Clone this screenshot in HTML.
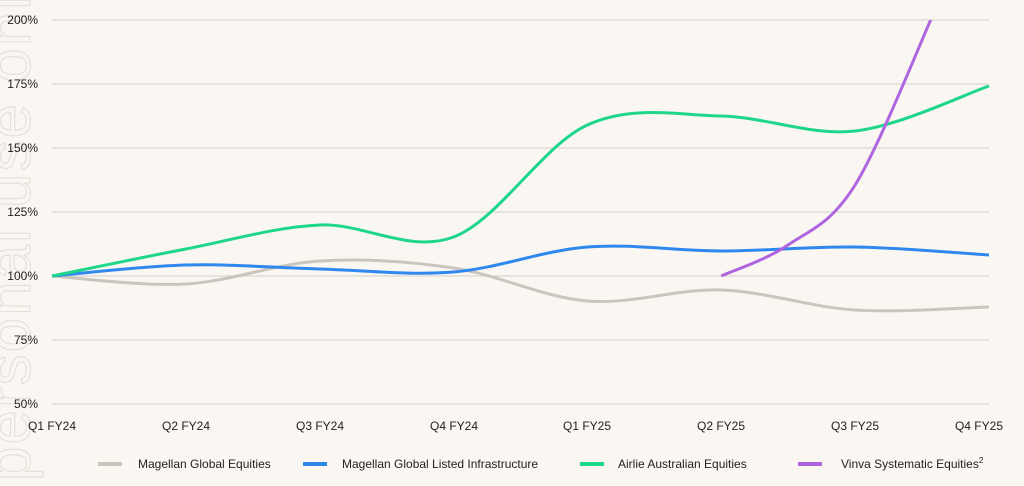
<!DOCTYPE html>
<html><head><meta charset="utf-8"><style>
html,body{margin:0;padding:0;background:#faf7f3;}
body{width:1024px;height:481px;overflow:hidden;font-family:"Liberation Sans",sans-serif;}
</style></head><body>
<svg id="s" width="1024" height="481" xmlns="http://www.w3.org/2000/svg" style="font-family:'Liberation Sans',sans-serif">
<text transform="translate(30,481) rotate(-90)" font-size="62" fill="none" stroke="#e4e0da" stroke-width="1.2" letter-spacing="2">personal use only</text>
<g stroke="#d9d6d2" stroke-width="1.3">
<line x1="52" x2="989" y1="20" y2="20"/><line x1="52" x2="989" y1="84" y2="84"/>
<line x1="52" x2="989" y1="148" y2="148"/><line x1="52" x2="989" y1="212" y2="212"/>
<line x1="52" x2="989" y1="276" y2="276"/><line x1="52" x2="989" y1="340" y2="340"/>
<line x1="52" x2="989" y1="404" y2="404"/></g>
<g font-size="12" fill="#222" text-anchor="end">
<text x="38" y="24">200%</text><text x="38" y="88">175%</text><text x="38" y="152">150%</text>
<text x="38" y="216">125%</text><text x="38" y="280">100%</text><text x="38" y="344">75%</text><text x="38" y="408">50%</text></g>
<g font-size="12" fill="#222" text-anchor="middle">
<text x="52" y="430">Q1 FY24</text><text x="186" y="430">Q2 FY24</text><text x="320" y="430">Q3 FY24</text>
<text x="454" y="430">Q4 FY24</text><text x="587" y="430">Q1 FY25</text><text x="721" y="430">Q2 FY25</text>
<text x="855" y="430">Q3 FY25</text><text x="989" y="430" text-anchor="end" dx="14">Q4 FY25</text></g>
<defs><clipPath id="c"><rect x="0" y="20" width="1024" height="400"/></clipPath></defs>
<g id="lines" fill="none" stroke-width="3" clip-path="url(#c)"></g>
<g font-size="12" fill="#222">
<rect x="98" y="462" width="24" height="4" fill="#cbc6bd"/><text x="138" y="468">Magellan Global Equities</text>
<rect x="303" y="462" width="24" height="4" fill="#2f88ee"/><text x="342" y="468">Magellan Global Listed Infrastructure</text>
<rect x="580" y="462" width="24" height="4" fill="#1ed68a"/><text x="618" y="468">Airlie Australian Equities</text>
<rect x="798" y="462" width="24" height="4" fill="#b065e0"/><text x="841" y="468">Vinva Systematic Equities<tspan font-size="8" dy="-5">2</tspan></text>
</g>
</svg>
<script>
var X=[52,185.9,319.7,453.6,587.4,721.3,855.1,989];
function path(xs,ys){var p=[];for(var i=0;i<xs.length;i++)p.push([xs[i],ys[i]]);
var d="M"+p[0][0]+","+p[0][1];
for(var i=0;i<p.length-1;i++){var p0=p[i-1]||p[i],p1=p[i],p2=p[i+1],p3=p[i+2]||p2;
var t=0.5/3*2;
d+=" C"+(p1[0]+(p2[0]-p0[0])/6)+","+(p1[1]+(p2[1]-p0[1])/6)+" "+(p2[0]-(p3[0]-p1[0])/6)+","+(p2[1]-(p3[1]-p1[1])/6)+" "+p2[0]+","+p2[1];}
return d;}
var S=[["#cbc6bd",X,[276,284,261,268,301,290,310,307]],
["#2f88ee",X,[276,265,269,272,247,251,247,255]],
["#1ed68a",X,[276,249,225,237,125,116,131,86]],
["#b065e0",[721.3,788,855.1,935],[276,245,185,10]]];
var g=document.getElementById("lines");
S.forEach(function(s){var e=document.createElementNS("http://www.w3.org/2000/svg","path");
e.setAttribute("d",path(s[1],s[2]));e.setAttribute("stroke",s[0]);g.appendChild(e);});
</script>
</body></html>
